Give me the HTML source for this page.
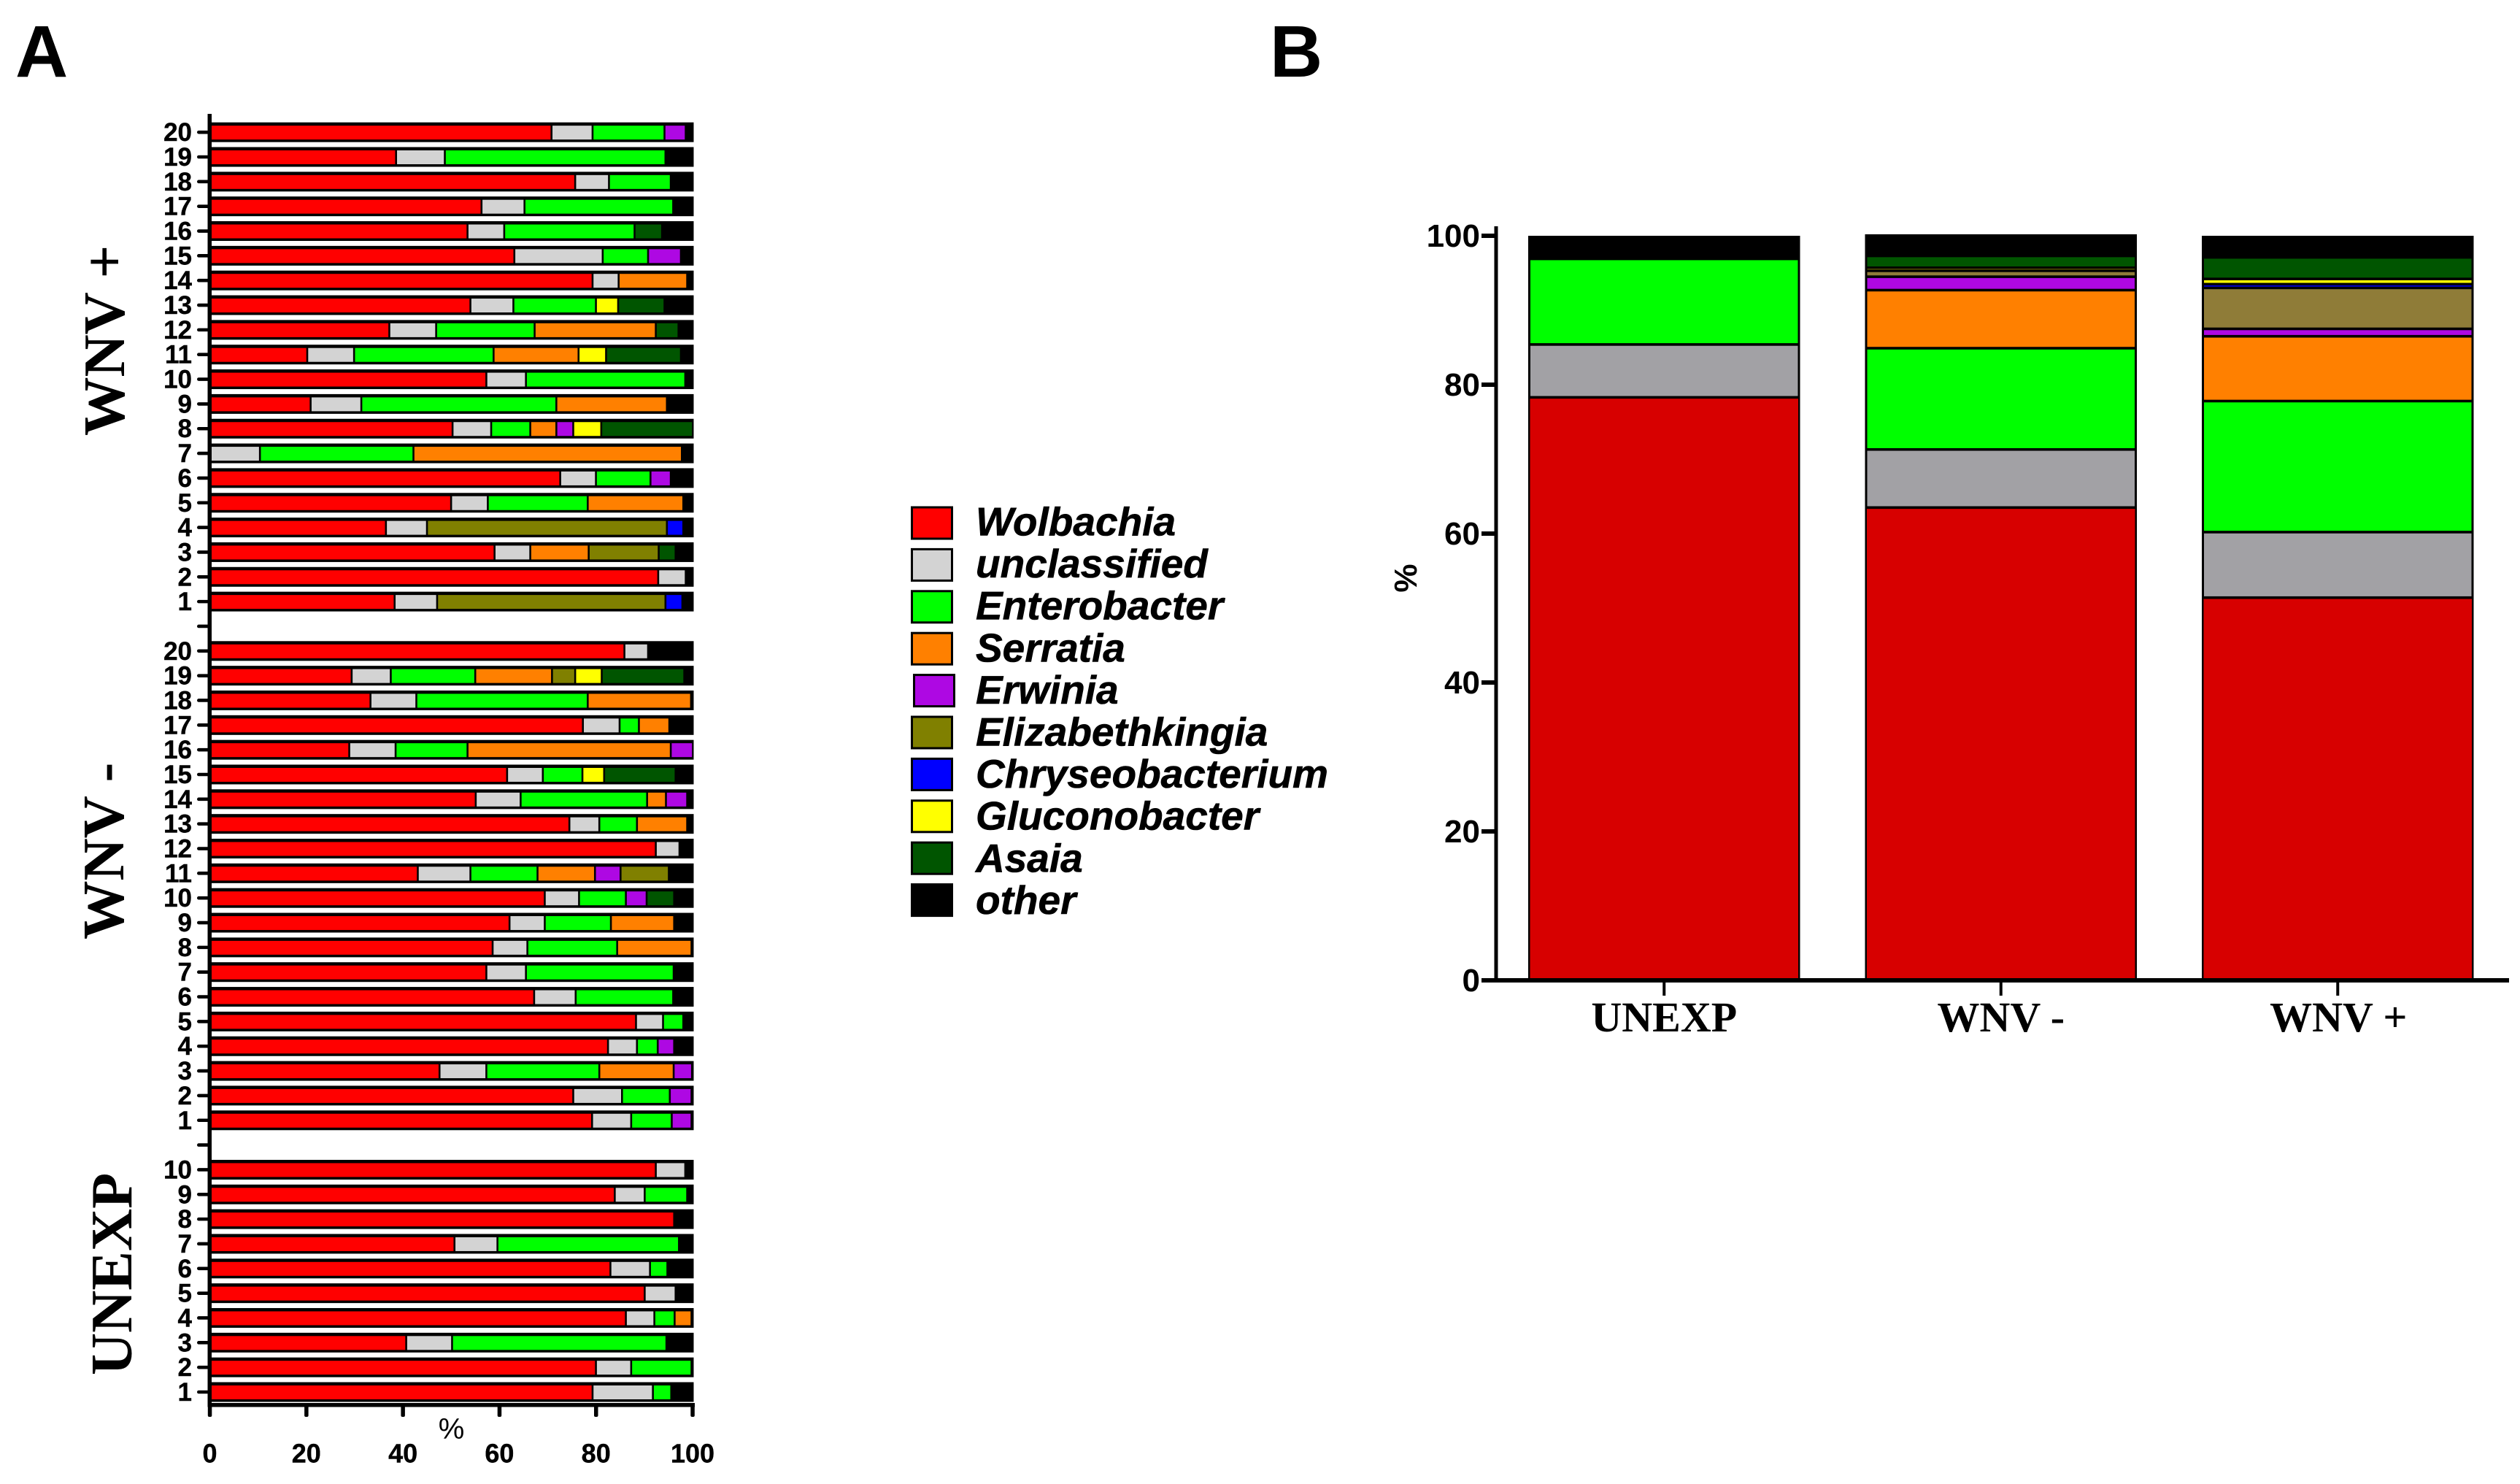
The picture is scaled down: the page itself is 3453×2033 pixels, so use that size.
<!DOCTYPE html>
<html lang="en">
<head>
<meta charset="utf-8">
<title>Bacterial composition by sample and group</title>
<style>
html,body{margin:0;padding:0;background:#fff;}
svg{display:block;}
.sans{font-family:"Liberation Sans",sans-serif;}
.serif{font-family:"Liberation Serif",serif;}
</style>
</head>
<body>
<svg id="figure" xmlns="http://www.w3.org/2000/svg" width="3453" height="2033" viewBox="0 0 3453 2033">
  <rect x="0" y="0" width="3453" height="2033" fill="#ffffff"/>
  <text class="sans" x="21" y="105" font-size="100" font-weight="700">A</text>
  <text class="sans" x="1740" y="105" font-size="100" font-weight="700">B</text>
  <g id="panelA"></g>
  <g id="legend"></g>
  <g id="panelB"></g>
</svg>
<script>
// Taxa, in stacking order
const taxa = ["Wolbachia","unclassified","Enterobacter","Serratia","Erwinia","Elizabethkingia","Chryseobacterium","Gluconobacter","Asaia","other"];
const colorsA = ["#ff0000","#d3d3d3","#00ff00","#ff8000","#ae08e3","#808000","#0000ff","#ffff00","#005500","#000000"];
const colorsB = ["#d70000","#a2a1a5","#00ff00","#ff8000","#ae08e3","#8f7c38","#0000ff","#ffff00","#005500","#000000"];

// Panel A: rows are sample 1..N; columns follow the taxa order
const unexpSamples = [
  [79.1,12.5,3.8,0,0,0,0,0,0,4.6],
  [79.8,7.3,12.5,0,0,0,0,0,0,0.4],
  [40.5,9.5,44.4,0,0,0,0,0,0,5.6],
  [86,5.9,4.2,3.5,0,0,0,0,0,0.4],
  [89.9,6.4,0,0,0,0,0,0,0,3.7],
  [82.8,8.2,3.6,0,0,0,0,0,0,5.4],
  [50.5,8.9,37.6,0,0,0,0,0,0,3],
  [96,0,0,0,0,0,0,0,0,4],
  [83.7,6.2,8.8,0,0,0,0,0,0,1.3],
  [92.2,6.1,0,0,0,0,0,0,0,1.7]
];
const wnvNegSamples = [
  [79,8.1,8.4,0,4.1,0,0,0,0,0.4],
  [75.1,10.1,9.9,0,4.5,0,0,0,0,0.4],
  [47.4,9.7,23.4,15.4,3.8,0,0,0,0,0.3],
  [82.3,6,4.3,0,3.4,0,0,0,0,4],
  [88.1,5.6,4.2,0,0,0,0,0,0,2.1],
  [67,8.6,20.2,0,0,0,0,0,0,4.2],
  [57.1,8.2,30.6,0,0,0,0,0,0,4.1],
  [58.4,7.2,18.6,15.4,0,0,0,0,0,0.4],
  [61.9,7.3,13.7,13.1,0,0,0,0,0,4],
  [69.2,7.1,9.7,0,4.3,0,0,0,5.7,4],
  [42.9,10.9,13.9,11.9,5.3,10,0,0,0,5.1],
  [92.2,4.9,0,0,0,0,0,0,0,2.9],
  [74.3,6.2,7.8,10.4,0,0,0,0,0,1.3],
  [54.9,9.3,26.2,3.9,4.4,0,0,0,0,1.3],
  [61.4,7.4,8.2,0,0,0,0,4.5,14.8,3.7],
  [28.7,9.6,14.9,42.1,4.7,0,0,0,0,0],
  [77.1,7.6,4,6.3,0,0,0,0,0,5],
  [33.1,9.5,35.5,21.4,0,0,0,0,0,0.5],
  [29.2,8.1,17.5,15.9,0,4.8,0,5.5,17.1,1.9],
  [85.7,4.9,0,0,0,0,0,0,0,9.4]
];
const wnvPosSamples = [
  [38.1,8.8,0,0,0,47.3,3.5,0,0,2.3],
  [92.7,5.7,0,0,0,0,0,0,0,1.6],
  [58.8,7.4,0,12.1,0,14.5,0,0,3.5,3.7],
  [36.3,8.5,0,0,0,49.7,3.4,0,0,2.1],
  [49.8,7.6,20.7,19.8,0,0,0,0,0,2.1],
  [72.4,7.4,11.3,0,4.2,0,0,0,0,4.7],
  [0,10.2,31.8,55.6,0,0,0,0,0,2.4],
  [50.1,8,8.1,5.4,3.5,0,0,5.8,19.1,0],
  [20.7,10.5,40.4,22.9,0,0,0,0,0,5.5],
  [57.1,8.2,33,0,0,0,0,0,0,1.7],
  [20,9.7,28.9,17.6,0,0,0,5.7,15.5,2.6],
  [37,9.7,20.4,25.1,0,0,0,0,4.7,3.1],
  [53.8,8.9,17.1,0,0,0,0,4.6,9.6,6],
  [79.1,5.4,0,14.2,0,0,0,0,0,1.3],
  [62.9,18.3,9.4,0,6.8,0,0,0,0,2.6],
  [53.2,7.6,27,0,0,0,0,0,5.7,6.5],
  [56.1,8.9,30.8,0,0,0,0,0,0,4.2],
  [75.5,7,12.8,0,0,0,0,0,0,4.7],
  [38.4,10.1,45.7,0,0,0,0,0,0,5.8],
  [70.6,8.5,14.9,0,4.4,0,0,0,0,1.6]
];
const axisATicks = [0,20,40,60,80,100];

// Panel B: group means, columns follow the taxa order
const groupNames = ["UNEXP","WNV -","WNV +"];
const unexpMean = [78.3,7.1,11.5,0,0,0,0,0,0,3.1];
const wnvNegMean = [63.5,7.8,13.6,7.8,1.8,0.8,0,0.4,1.6,2.9];
const wnvPosMean = [51.4,8.8,17.6,8.7,1,5.5,0.5,0.7,2.9,2.9];
const axisBTicks = [0,20,40,60,80,100];

const NS = "http://www.w3.org/2000/svg";
function make(tag, parent, attrs, content) {
  const el = document.createElementNS(NS, tag);
  for (const k in attrs) el.setAttribute(k, attrs[k]);
  if (content !== undefined) el.textContent = content;
  parent.appendChild(el);
  return el;
}
function slug(s) {
  return s.toLowerCase().replace(/\+/g, "pos").replace(/-/g, "neg").replace(/\s+/g, "");
}

/* ---------- Panel A ---------- */
const panelA = document.getElementById("panelA");
const ax0 = 287.5, ax100 = 949;
function xA(v) { return ax0 + (ax100 - ax0) * v / 100; }
function xSeg(v) { return Math.min(xA(v) + 1.2, xA(100) + 0.5); }
const rowBase = 1907, rowStep = 33.84, barH = 27;
function yA(slot) { return rowBase - rowStep * slot; }

function drawSampleGroup(rows, startSlot, groupName) {
  const group = make("g", panelA, {});
  
  
  rows.forEach(function (row, i) {
    const cy = yA(startSlot + i);
    const top = cy - 13.5;
    const outline = make("rect", group, {x: xA(0), y: top, width: xA(100) - xA(0) + 1.5, height: barH, fill: "#000"});
    
    
    let cum = 0;
    row.forEach(function (val, t) {
      if (val > 0 && t < 9) {
        const left = Math.max(xSeg(cum) + 1.3, xA(0) + 2.5);
        const right = xSeg(cum + val) - 1.3;
        const seg = make("rect", group, {x: left, y: top + 4.5, width: Math.max(0, right - left), height: 19, fill: colorsA[t]});
        
        
      }
      cum += val;
    });
    const label = make("text", panelA, {class: "sans", x: 263, y: cy + 12, "text-anchor": "end", "font-size": 35, "font-weight": 700, stroke: "#000", "stroke-width": 0.4}, String(i + 1));
    
    
  });
}
const slotUnexp = 0;
const slotNeg = unexpSamples.length + 1;
const slotPos = slotNeg + wnvNegSamples.length + 1;
drawSampleGroup(unexpSamples, slotUnexp, "unexp");
drawSampleGroup(wnvNegSamples, slotNeg, "wnv-neg");
drawSampleGroup(wnvPosSamples, slotPos, "wnv-pos");

const totalSlots = slotPos + wnvPosSamples.length;
for (let s = 0; s < totalSlots; s++) {
  const tick = make("rect", panelA, {x: 270, y: yA(s) - 2.3, width: 18, height: 4.6, rx: 2.3, fill: "#000"});
  
  
}
const aYAxis = make("rect", panelA, {x: 284.5, y: 156, width: 5.5, height: 1771, fill: "#000"});


const aXAxis = make("rect", panelA, {x: 284.5, y: 1922, width: xA(100) - 284.5 + 3, height: 5.5, fill: "#000"});


axisATicks.forEach(function (v) {
  const t = make("rect", panelA, {x: xA(v) - 2.7, y: 1925, width: 5.5, height: 16, rx: 2, fill: "#000"});
  
  
  const l = make("text", panelA, {class: "sans", x: xA(v), y: 2003.5, "text-anchor": "middle", "font-size": 36, "font-weight": 700, stroke: "#000", "stroke-width": 0.4}, String(v));
  
  
});
const aXTitle = make("text", panelA, {class: "sans", x: 618.5, y: 1971, "text-anchor": "middle", "font-size": 40}, "%");



const gTitlePos = make("text", panelA, {class: "serif", x: 170, y: 597, "font-size": 80.5, "font-weight": 700, transform: "rotate(-90 170 597)"}, "WNV +");


const gTitleNeg = make("text", panelA, {class: "serif", x: 169, y: 1287, "font-size": 80.5, "font-weight": 700, transform: "rotate(-90 169 1287)"}, "WNV -");


const gTitleUn = make("text", panelA, {class: "serif", x: 180, y: 1884, "font-size": 80.5, "font-weight": 700, transform: "rotate(-90 180 1884)"}, "UNEXP");



/* ---------- Legend ---------- */
const legend = document.getElementById("legend");
taxa.forEach(function (name, i) {
  const sy = 693.5 + 57.4 * i;
  const sw = make("rect", legend, {x: (i === 4 ? 1252.5 : 1249.5), y: sy + 1.5, width: 55, height: 43, fill: colorsA[i], stroke: "#000", "stroke-width": 3});
  
  
  const tx = make("text", legend, {class: "sans", x: 1337, y: 733.5 + 57.6 * i, "font-size": 55, "font-weight": 700, "font-style": "italic", stroke: "#000", "stroke-width": 0.6}, name);
  
  
});

/* ---------- Panel B ---------- */
const panelB = document.getElementById("panelB");
const by0 = 1343, by100 = 323;
function yB(v) { return by0 + (by100 - by0) * v / 100; }
const groupMeans = [unexpMean, wnvNegMean, wnvPosMean];
const barLeftB = 2094, barStepB = 461.5, barWidthB = 372.5;
function xB(i) { return barLeftB + barStepB * i; }

groupMeans.forEach(function (means, i) {
  const group = make("g", panelB, {});
  
  
  const total = means.reduce(function (a, b) { return a + b; }, 0);
  const outline = make("rect", group, {x: xB(i), y: yB(total), width: barWidthB, height: yB(0) - yB(total), fill: "#000"});
  
  
  let cum = 0;
  means.forEach(function (val, t) {
    if (val > 0 && t < 9) {
      const top = yB(cum + val) + 1.8;
      const bottom = yB(cum) - (t === 0 ? 0 : 1.8);
      const seg = make("rect", group, {x: xB(i) + (t === 0 ? 2.5 : 3), y: top, width: barWidthB - (t === 0 ? 5 : 6), height: Math.max(0, bottom - top), fill: colorsB[t]});
      
      
    }
    cum += val;
  });
  const cx = xB(i) + barWidthB / 2;
  const tick = make("rect", panelB, {x: cx - 2, y: 1345, width: 4, height: 19, fill: "#000"});
  
  
  const label = make("text", panelB, {class: "serif", x: cx + (i === 2 ? 1 : 0), y: 1413, "text-anchor": "middle", "font-size": 58, "font-weight": 700}, groupNames[i]);
  
  
});

const bYAxis = make("rect", panelB, {x: 2047.5, y: 310, width: 5, height: 1036, fill: "#000"});


const bXAxis = make("rect", panelB, {x: 2030, y: 1340, width: 1408, height: 6, fill: "#000"});


axisBTicks.forEach(function (v) {
  const t = make("rect", panelB, {x: 2030, y: yB(v) - 3, width: 20, height: 6, fill: "#000"});
  
  
  const l = make("text", panelB, {class: "sans", x: 2028, y: yB(v) + 15, "text-anchor": "end", "font-size": 44, "font-weight": 700}, String(v));
  
  
});
const bYTitle = make("text", panelB, {class: "sans", x: 1941, y: 792, "text-anchor": "middle", "font-size": 44, "font-weight": 700, transform: "rotate(-90 1941 792)"}, "%");


</script>
</body>
</html>
